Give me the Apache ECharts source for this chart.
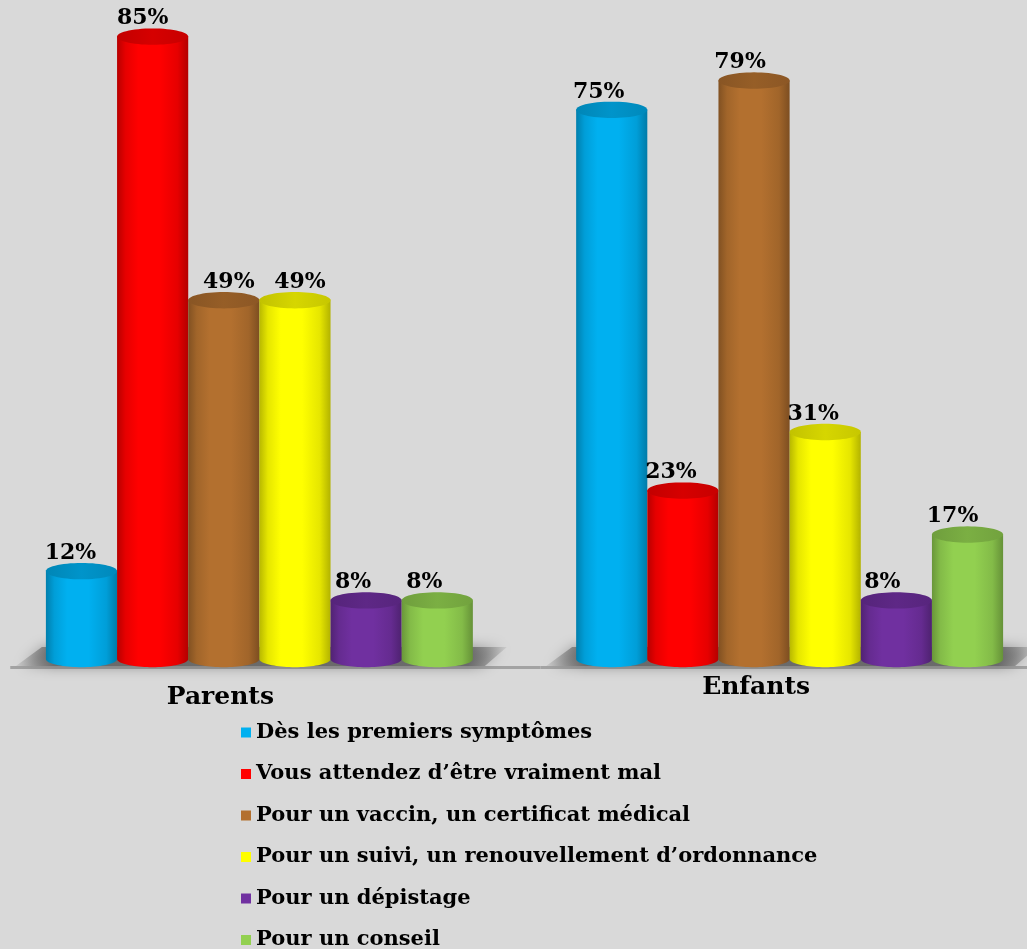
<!DOCTYPE html>
<html>
<head>
<meta charset="utf-8">
<script src="https://cdn.jsdelivr.net/npm/echarts@6/dist/echarts.min.js"></script>
<style>
  html, body { margin: 0; padding: 0; background: #d9d9d9; }
  #chart { width: 1027px; height: 949px; }
</style>
</head>
<body>
<div id="chart"></div>
<script>
// Survey answers: when do people go to the doctor, for parents and for children (%)
const categories = ['Parents', 'Enfants'];
const seriesNames = [
  'Dès les premiers symptômes',
  'Vous attendez d’être vraiment mal',
  'Pour un vaccin, un certificat médical',
  'Pour un suivi, un renouvellement d’ordonnance',
  'Pour un dépistage',
  'Pour un conseil'
];
const symptomes = [12, 75];
const attendre = [85, 23];
const vaccin = [49, 79];
const suivi = [49, 31];
const depistage = [8, 8];
const conseil = [8, 17];

const values = [symptomes, attendre, vaccin, suivi, depistage, conseil];
const colors = ['#00b0f0', '#ff0000', '#b3702f', '#ffff00', '#7030a0', '#92d050'];

// horizontal nudge of each value label (px), per series then per category
const labelNudge = [[-11, -13], [-10, -12], [5, -14], [5, -12], [-13, -14], [-13, -15]];

const FONT = '"DejaVu Serif", "Liberation Serif", serif';
const BAR_FRAC = 0.1342;   // width of one cylinder as a share of the category band

function shade(hex, f) {
  const n = parseInt(hex.slice(1), 16);
  let r = (n >> 16) & 255, g = (n >> 8) & 255, b = n & 255;
  r = Math.round(Math.min(255, r * f)); g = Math.round(Math.min(255, g * f)); b = Math.round(Math.min(255, b * f));
  return 'rgb(' + r + ',' + g + ',' + b + ')';
}

function ellipsePts(cx, cy, rx, ry, t0, t1, n) {
  const pts = [];
  for (let i = 0; i <= n; i++) {
    const t = t0 + (t1 - t0) * i / n;
    pts.push([cx + rx * Math.cos(t), cy + ry * Math.sin(t)]);
  }
  return pts;
}

function cylinderRenderer(s) {
  const base = colors[s];
  return function (params, api) {
    const ci = api.value(0);
    const v = api.value(1);
    const topPt = api.coord([ci, v]);
    const zeroPt = api.coord([ci, 0]);
    const band = api.size([1, 0])[0];
    const w = band * BAR_FRAC;
    const rx = w / 2;
    const ry = w * 0.115;
    const cx = topPt[0] + (s - 2.5) * w;
    const yTop = topPt[1];
    const yBot = zeroPt[1];

    const body = [[cx - rx, yTop], [cx - rx, yBot]]
      .concat(ellipsePts(cx, yBot, rx, ry, Math.PI, 0, 40))
      .concat([[cx + rx, yTop]]);
    const cap = ellipsePts(cx, yTop, rx, ry, 0, Math.PI * 2, 60);

    return {
      type: 'group',
      children: [
        {
          type: 'polygon',
          shape: { points: body },
          style: {
            fill: {
              type: 'linear', x: 0, y: 0, x2: 1, y2: 0,
              colorStops: [
                { offset: 0, color: shade(base, 0.72) },
                { offset: 0.12, color: shade(base, 0.9) },
                { offset: 0.3, color: base },
                { offset: 0.6, color: base },
                { offset: 0.85, color: shade(base, 0.9) },
                { offset: 1, color: shade(base, 0.7) }
              ]
            }
          }
        },
        {
          type: 'polygon',
          shape: { points: cap },
          style: {
            fill: {
              type: 'linear', x: 0, y: 0, x2: 1, y2: 0,
              colorStops: [
                { offset: 0, color: shade(base, 0.76) },
                { offset: 0.5, color: shade(base, 0.84) },
                { offset: 1, color: shade(base, 0.78) }
              ]
            }
          }
        },
        {
          type: 'text',
          z2: 100,
          x: cx + labelNudge[s][ci],
          y: yTop - 7,
          style: {
            text: v + '%',
            fill: '#000',
            font: 'bold 22px ' + FONT,
            align: 'center',
            verticalAlign: 'bottom'
          }
        }
      ]
    };
  };
}

// floor under each group: front edge line and soft shadow
function floorRenderer(params, api) {
  const ci = api.value(0);
  const zeroPt = api.coord([ci, 0]);
  const band = api.size([1, 0])[0];
  const w = band * BAR_FRAC;
  const L = zeroPt[0] - 3 * w;
  const R = zeroPt[0] + 3 * w;
  const y0 = zeroPt[1];
  return {
    type: 'group',
    children: [
      {
        type: 'rect',
        shape: { x: zeroPt[0] - band / 2 + 16, y: y0 + 7, width: band, height: 3 },
        style: { fill: '#a3a3a3' }
      },
      {
        type: 'polygon',
        shape: { points: [[L - 30, y0 + 7], [L - 4, y0 - 12], [R + 34, y0 - 12], [R + 12, y0 + 7]] },
        style: {
          fill: {
            type: 'linear', x: 0, y: 0, x2: 1, y2: 0,
            colorStops: [
              { offset: 0, color: 'rgba(100,100,100,0.1)' },
              { offset: 0.08, color: 'rgba(100,100,100,0.9)' },
              { offset: 0.92, color: 'rgba(100,100,100,0.9)' },
              { offset: 1, color: 'rgba(100,100,100,0.1)' }
            ]
          },
          shadowBlur: 14,
          shadowColor: 'rgba(80,80,80,0.7)'
        }
      }
    ]
  };
}

const chart = echarts.init(document.getElementById('chart'));

const series = [{
  type: 'custom',
  name: 'floor',
  z: 1,
  silent: true,
  renderItem: floorRenderer,
  data: categories.map((c, i) => [i, 0])
}].concat(seriesNames.map((name, s) => ({
  type: 'custom',
  name: name,
  z: 2,
  itemStyle: { color: colors[s] },
  renderItem: cylinderRenderer(s),
  encode: { x: 0, y: 1 },
  data: values[s].map((v, i) => [i, v])
})));

chart.setOption({
  backgroundColor: '#d9d9d9',
  animation: false,
  grid: { left: -5.75, right: -27.75, top: 0, bottom: 290, containLabel: false, outerBoundsMode: 'none' },
  xAxis: {
    type: 'category',
    data: categories,
    axisLine: { show: false },
    axisTick: { show: false },
    splitLine: { show: false },
    axisLabel: {
      margin: 16,
      formatter: function (val) { return val === 'Parents' ? '{p|' + val + '}' : '{e|' + val + '}'; },
      rich: {
        p: { fontFamily: FONT, fontWeight: 'bold', fontSize: 25, color: '#000', padding: [10, 78, 0, 0] },
        e: { fontFamily: FONT, fontWeight: 'bold', fontSize: 25, color: '#000', padding: [0, 67, 0, 0] }
      }
    }
  },
  yAxis: { type: 'value', min: 0, max: 90, show: false },
  legend: {
    data: seriesNames,
    orient: 'vertical',
    left: 241,
    top: 722,
    height: 400,
    padding: 0,
    icon: 'rect',
    itemWidth: 10,
    itemHeight: 10,
    itemGap: 20.5,
    selectedMode: false,
    textStyle: { fontFamily: FONT, fontWeight: 'bold', fontSize: 21, color: '#000' }
  },
  series: series
});
</script>
</body>
</html>
